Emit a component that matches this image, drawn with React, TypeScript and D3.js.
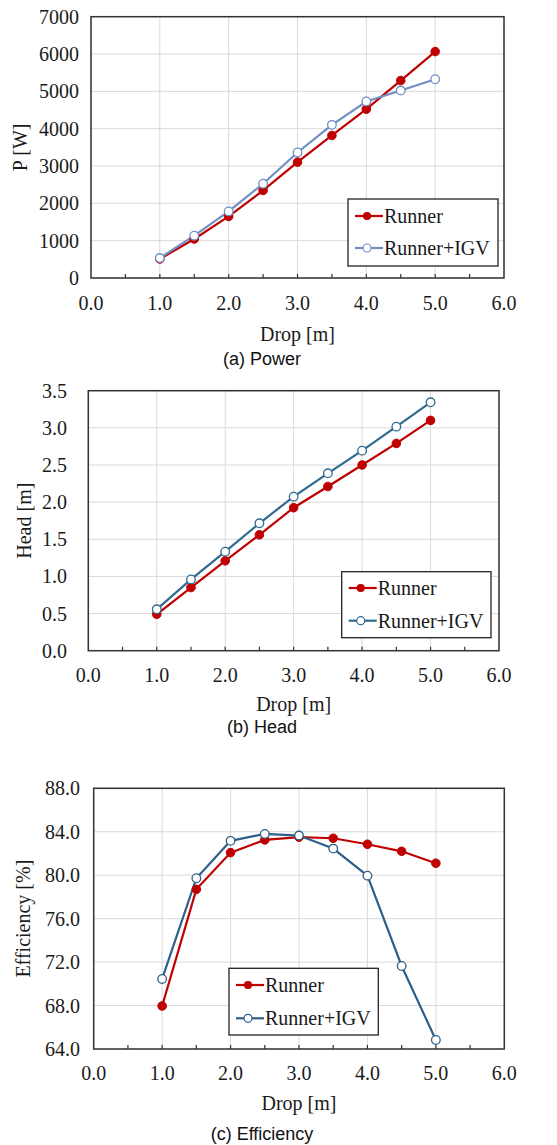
import React from "react";
import * as d3 from "d3";

const drops = [1.0, 1.5, 2.0, 2.5, 3.0, 3.5, 4.0, 4.5, 5.0];
const powerRunner = [510, 1045, 1650, 2346, 3104, 3818, 4523, 5290, 6066];
const powerIGV = [535, 1133, 1784, 2525, 3363, 4103, 4728, 5022, 5325];
const headRunner = [0.49, 0.85, 1.21, 1.56, 1.925, 2.21, 2.5, 2.79, 3.1];
const headIGV = [0.557, 0.96, 1.333, 1.715, 2.074, 2.388, 2.693, 3.016, 3.344];
const effRunner = [67.96, 78.7, 82.08, 83.25, 83.5, 83.4, 82.85, 82.2, 81.1];
const effIGV = [70.45, 79.72, 83.16, 83.8, 83.65, 82.45, 79.96, 71.64, 64.83];
const xTicks = [0, 1, 2, 3, 4, 5, 6];
const xMinorTicks = [0.5, 1, 1.5, 2, 2.5, 3, 3.5, 4, 4.5, 5, 5.5];
const powerTicks = [0, 1000, 2000, 3000, 4000, 5000, 6000, 7000];
const headTicks = [0, 0.5, 1.0, 1.5, 2.0, 2.5, 3.0, 3.5];
const effTicks = [64, 68, 72, 76, 80, 84, 88];
const seriesNames = ["Runner", "Runner+IGV"];
const captions = ["(a) Power", "(b) Head", "(c) Efficiency"];
const yLabels = ["P [W]", "Head [m]", "Efficiency [%]"];
const xLabel = "Drop [m]";

const RED = "#C00000";
const SERIF = "'Liberation Serif', 'Times New Roman', serif";
const SANS = "'Liberation Sans', Arial, sans-serif";

type PanelProps = {
  left: number; right: number; top: number; bottom: number;
  yTicks: number[]; yFmt: (v: number) => string;
  runner: number[]; igv: number[];
  yTickX: number; yLabelX: number; yLabel: string;
  xTickY: number; xLabelY: number; captionY: number; caption: string;
  legend: [number, number, number, number]; legendRows: [number, number];
  blue: string;
};

function Panel(p: PanelProps) {
  const x = d3.scaleLinear().domain([0, 6]).range([p.left, p.right]);
  const y = d3.scaleLinear().domain([p.yTicks[0], p.yTicks[p.yTicks.length - 1]]).range([p.bottom, p.top]);
  const line = d3.line<number>().x((_, i) => x(drops[i])).y((v) => y(v));
  const cx = (p.left + p.right) / 2;
  const cy = (p.top + p.bottom) / 2;
  const [lx0, ly0, lx1, ly1] = p.legend;
  return (
    <g>
      {p.yTicks.map((t) => (
        <line key={"gy" + t} x1={p.left} x2={p.right} y1={y(t)} y2={y(t)} stroke="#d9d9d9" strokeWidth={1} />
      ))}
      {xTicks.map((t) => (
        <line key={"gx" + t} x1={x(t)} x2={x(t)} y1={p.top} y2={p.bottom} stroke="#d9d9d9" strokeWidth={1} />
      ))}
      <rect x={p.left} y={p.top} width={p.right - p.left} height={p.bottom - p.top} fill="none" stroke="#333" strokeWidth={1.5} />
      {xMinorTicks.map((t) => (
        <line key={"mt" + t} x1={x(t)} x2={x(t)} y1={p.bottom} y2={p.bottom - 4} stroke="#333" strokeWidth={1.2} />
      ))}
      {p.yTicks.map((t) => (
        <text key={"yl" + t} x={p.yTickX} y={y(t)} textAnchor="end" dominantBaseline="central" fontFamily={SERIF} fontSize={20} fill="#1a1a1a">
          {p.yFmt(t)}
        </text>
      ))}
      {xTicks.map((t) => (
        <text key={"xl" + t} x={x(t)} y={p.xTickY} textAnchor="middle" fontFamily={SERIF} fontSize={20} fill="#1a1a1a">
          {t.toFixed(1)}
        </text>
      ))}
      <text x={cx} y={p.xLabelY} textAnchor="middle" fontFamily={SERIF} fontSize={20} fill="#1a1a1a">{xLabel}</text>
      <text transform={`translate(${p.yLabelX},${cy}) rotate(-90)`} textAnchor="middle" fontFamily={SERIF} fontSize={20} fill="#1a1a1a">{p.yLabel}</text>
      <text x={262} y={p.captionY} textAnchor="middle" fontFamily={SANS} fontSize={18} fill="#111">{p.caption}</text>

      <path d={line(p.runner) || ""} fill="none" stroke={RED} strokeWidth={2.2} />
      <path d={line(p.igv) || ""} fill="none" stroke={p.blue} strokeWidth={2.2} />
      {p.runner.map((v, i) => (
        <circle key={"r" + i} cx={x(drops[i])} cy={y(v)} r={4.3} fill={RED} stroke={RED} strokeWidth={1} />
      ))}
      {p.igv.map((v, i) => (
        <circle key={"b" + i} cx={x(drops[i])} cy={y(v)} r={4.3} fill="#fff" stroke={p.blue} strokeWidth={1.3} />
      ))}

      <rect x={lx0} y={ly0} width={lx1 - lx0} height={ly1 - ly0} fill="#fff" stroke="#222" strokeWidth={1.3} />
      {seriesNames.map((name, i) => {
        const ry = p.legendRows[i];
        const col = i === 0 ? RED : p.blue;
        return (
          <g key={name}>
            <line x1={lx0 + 7} x2={lx0 + 35} y1={ry} y2={ry} stroke={col} strokeWidth={2.2} />
            <circle cx={lx0 + 19} cy={ry} r={i === 0 ? 3.5 : 4} fill={i === 0 ? RED : "#fff"} stroke={col} strokeWidth={1.2} />
            <text x={lx0 + 36} y={ry} dominantBaseline="central" fontFamily={SERIF} fontSize={20} fill="#1a1a1a">{name}</text>
          </g>
        );
      })}
    </g>
  );
}

export default function App() {
  return (
    <svg width={557} height={1145} style={{ position: "absolute", left: 0, top: 0, background: "#fff" }}>
      <rect x={0} y={0} width={557} height={1145} fill="#fff" />
      <Panel
        left={91} right={504} top={16.7} bottom={278}
        yTicks={powerTicks} yFmt={(v) => d3.format("d")(v)}
        runner={powerRunner} igv={powerIGV}
        yTickX={79} yLabelX={27} yLabel={yLabels[0]}
        xTickY={310} xLabelY={340.5} captionY={365} caption={captions[0]}
        legend={[348, 199, 498, 266]} legendRows={[216, 248]}
        blue="#6F8FC4"
      />
      <Panel
        left={88.3} right={499} top={390.7} bottom={650.7}
        yTicks={headTicks} yFmt={(v) => d3.format(".1f")(v)}
        runner={headRunner} igv={headIGV}
        yTickX={67} yLabelX={31} yLabel={yLabels[1]}
        xTickY={682} xLabelY={711} captionY={733} caption={captions[1]}
        legend={[341.7, 571.7, 491, 637.7]} legendRows={[588, 620.7]}
        blue="#2F6A8F"
      />
      <Panel
        left={93.7} right={504.3} top={788.3} bottom={1049}
        yTicks={effTicks} yFmt={(v) => d3.format(".1f")(v)}
        runner={effRunner} igv={effIGV}
        yTickX={80} yLabelX={30} yLabel={yLabels[2]}
        xTickY={1080} xLabelY={1110} captionY={1139.5} caption={captions[2]}
        legend={[229, 968.3, 378.3, 1035]} legendRows={[985, 1018.3]}
        blue="#2E5F8A"
      />
    </svg>
  );
}
